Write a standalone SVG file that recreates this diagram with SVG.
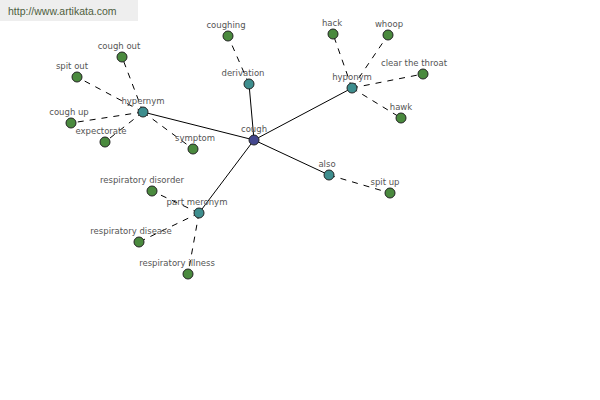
<svg xmlns="http://www.w3.org/2000/svg" width="600" height="400" viewBox="0 0 600 400">
<style>
.e{stroke:#000;stroke-width:1;fill:none}
.d{stroke:#000;stroke-width:1;fill:none;stroke-dasharray:6,6}
.n circle{stroke:#222;stroke-width:1}
.leaf circle{fill:#4a8a3e}
.rel circle{fill:#3e8e8e}
.root circle{fill:#44478e}
text{font-family:"DejaVu Sans","Liberation Sans",sans-serif;font-size:8.5px;fill:#555;text-anchor:middle}
</style>
<rect x="0" y="0" width="138" height="21" fill="#eeeeee"/>
<text x="8" y="15" style="text-anchor:start;font-size:10.5px;fill:#4e5e3e;font-family:'Liberation Sans',sans-serif">http://www.artikata.com</text>
<g id="connectors">
<line class="e" x1="254" y1="140" x2="143" y2="112"/>
<line class="e" x1="254" y1="140" x2="249" y2="84"/>
<line class="e" x1="254" y1="140" x2="352" y2="88"/>
<line class="e" x1="254" y1="140" x2="329" y2="175"/>
<line class="e" x1="254" y1="140" x2="199" y2="213"/>
<line class="d" x1="249" y1="84" x2="228" y2="36"/>
<line class="d" x1="143" y1="112" x2="122" y2="57"/>
<line class="d" x1="143" y1="112" x2="77" y2="77"/>
<line class="d" x1="143" y1="112" x2="71" y2="123"/>
<line class="d" x1="143" y1="112" x2="105" y2="142"/>
<line class="d" x1="143" y1="112" x2="193" y2="149"/>
<line class="d" x1="352" y1="88" x2="333" y2="34"/>
<line class="d" x1="352" y1="88" x2="388" y2="35"/>
<line class="d" x1="352" y1="88" x2="423" y2="74"/>
<line class="d" x1="352" y1="88" x2="401" y2="118"/>
<line class="d" x1="329" y1="175" x2="390" y2="193"/>
<line class="d" x1="199" y1="213" x2="152" y2="191"/>
<line class="d" x1="199" y1="213" x2="139" y2="242"/>
<line class="d" x1="199" y1="213" x2="188" y2="274"/>
</g>
<g id="n-cough" class="n root"><circle cx="254" cy="140" r="5"/><text x="254" y="132">cough</text></g>
<g id="n-hypernym" class="n rel"><circle cx="143" cy="112" r="5"/><text x="143" y="104">hypernym</text></g>
<g id="n-derivation" class="n rel"><circle cx="249" cy="84" r="5"/><text x="243" y="76">derivation</text></g>
<g id="n-hyponym" class="n rel"><circle cx="352" cy="88" r="5"/><text x="352" y="80">hyponym</text></g>
<g id="n-also" class="n rel"><circle cx="329" cy="175" r="5"/><text x="327" y="167">also</text></g>
<g id="n-partmeronym" class="n rel"><circle cx="199" cy="213" r="5"/><text x="197" y="205">part meronym</text></g>
<g id="n-coughing" class="n leaf"><circle cx="228" cy="36" r="5"/><text x="226" y="28">coughing</text></g>
<g id="n-coughout" class="n leaf"><circle cx="122" cy="57" r="5"/><text x="119" y="49">cough out</text></g>
<g id="n-spitout" class="n leaf"><circle cx="77" cy="77" r="5"/><text x="72" y="69">spit out</text></g>
<g id="n-coughup" class="n leaf"><circle cx="71" cy="123" r="5"/><text x="69" y="115">cough up</text></g>
<g id="n-expectorate" class="n leaf"><circle cx="105" cy="142" r="5"/><text x="101" y="134">expectorate</text></g>
<g id="n-symptom" class="n leaf"><circle cx="193" cy="149" r="5"/><text x="195" y="141">symptom</text></g>
<g id="n-hack" class="n leaf"><circle cx="333" cy="34" r="5"/><text x="332" y="26">hack</text></g>
<g id="n-whoop" class="n leaf"><circle cx="388" cy="35" r="5"/><text x="389" y="27">whoop</text></g>
<g id="n-clearthethroat" class="n leaf"><circle cx="423" cy="74" r="5"/><text x="414" y="66">clear the throat</text></g>
<g id="n-hawk" class="n leaf"><circle cx="401" cy="118" r="5"/><text x="401" y="110">hawk</text></g>
<g id="n-spitup" class="n leaf"><circle cx="390" cy="193" r="5"/><text x="385" y="185">spit up</text></g>
<g id="n-respdisorder" class="n leaf"><circle cx="152" cy="191" r="5"/><text x="142" y="183">respiratory disorder</text></g>
<g id="n-respdisease" class="n leaf"><circle cx="139" cy="242" r="5"/><text x="131" y="234">respiratory disease</text></g>
<g id="n-respillness" class="n leaf"><circle cx="188" cy="274" r="5"/><text x="177" y="266">respiratory illness</text></g>
</svg>
